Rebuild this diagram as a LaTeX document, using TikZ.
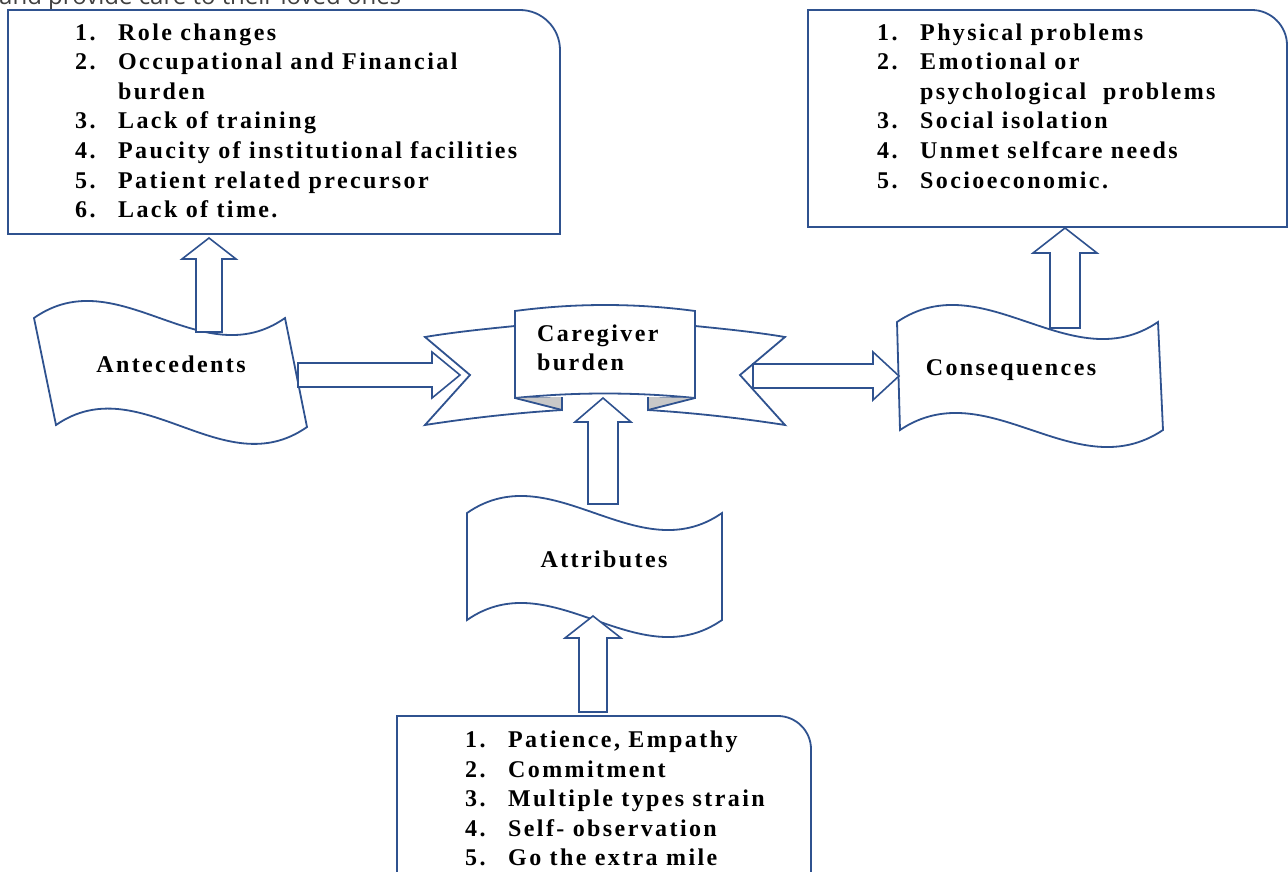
\documentclass[tikz,border=0pt]{standalone}
\usepackage{fontspec}
\setmainfont{Liberation Serif}[LetterSpace=10]
\newfontfamily\pagefont{Open Sans}
\definecolor{shapeblue}{HTML}{2F528F}
\definecolor{foldgray}{RGB}{200,200,200}

\begin{document}
\begin{tikzpicture}[
    x=1pt,y=-1pt,
    shp/.style={draw=shapeblue,line width=1.8pt,fill=white},
    barr/.style={draw=shapeblue,line width=1.6pt,fill=white},
    lbl/.style={font=\fontsize{24}{29.5}\selectfont\bfseries,inner sep=0pt,anchor=base west},
    ttl/.style={lbl,anchor=base},
  ]
  \useasboundingbox (0,0) rectangle (1288,872);
  \clip (0,0) rectangle (1288,872);

  % cut-off line of the page above
  \node[font=\pagefont\fontsize{24}{28}\selectfont,text=black!75,anchor=base west,inner sep=0pt] (pagetxt) at (-1,5) {and provide care to their loved ones};

  % list boxes (rounded top right corner)
  \draw[shp] (8,234) -- (8,10) -- (520,10) .. controls (542,10) and (560,28) .. (560,50) -- (560,234) -- cycle;
  \draw[shp] (808,227) -- (808,10) -- (1252,10) .. controls (1271,10) and (1287,26) .. (1287,45) -- (1287,227) -- cycle;
  \draw[shp] (397,880) -- (397,716) -- (778,716) .. controls (796,716) and (811,731) .. (811,749) -- (811,880);

  \foreach \k/\num/\txt in {0/1./Role changes, 1/2./Occupational and Financial, 2//burden,
      3/3./Lack of training, 4/4./Paucity of institutional facilities,
      5/5./Patient related precursor, 6/6./Lack of time.}{
    \node[lbl] (antnum\k) at (75,40.5+29.5*\k) {\num};
    \node[lbl] (antitm\k) at (118,40.5+29.5*\k) {\txt};
  }
  \foreach \k/\num/\txt in {0/1./Physical problems, 1/2./Emotional or, 2//psychological~~problems,
      3/3./Social isolation, 4/4./Unmet selfcare needs, 5/5./Socioeconomic.}{
    \node[lbl] (connum\k) at (877,40.5+29.5*\k) {\num};
    \node[lbl] (conitm\k) at (920,40.5+29.5*\k) {\txt};
  }
  \foreach \k/\num/\txt in {0/1./{Patience, Empathy}, 1/2./Commitment, 2/3./Multiple types strain,
      3/4./Self- observation, 4/5./Go the extra mile}{
    \node[lbl] (attnum\k) at (465,747.5+29.5*\k) {\num};
    \node[lbl] (attitm\k) at (508,747.5+29.5*\k) {\txt};
  }

  % wave shapes
  \draw[shp] (34,318) .. controls (118,259) and (201,377) .. (285,318) -- (307,427)
    .. controls (223,486) and (140,367) .. (56,425) -- cycle;
  \draw[shp] (897,322) .. controls (984,263) and (1071,381) .. (1158,322) -- (1163,430)
    .. controls (1075,489) and (988,371) .. (900,430) -- cycle;
  \draw[shp] (467,513) .. controls (552,454) and (637,572) .. (722,513) -- (722,620)
    .. controls (637,679) and (552,561) .. (467,620) -- cycle;

  % ribbon
  \draw[shp] (515,326) .. controls (485,329) and (455,332) .. (425,337) -- (470,375) -- (425,425)
    .. controls (470,418) and (515,413) .. (562,410) -- (562,398) -- (515,398) -- cycle;
  \draw[shp] (695,326) .. controls (725,329) and (755,332) .. (785,337) -- (740,375) -- (785,425)
    .. controls (740,418) and (695,413) .. (648,410) -- (648,398) -- (695,398) -- cycle;
  \draw[shp] (515,311) .. controls (575,303) and (635,303) .. (695,311) -- (695,398)
    .. controls (635,392) and (575,392) .. (515,398) -- cycle;
  \fill[foldgray] (515,398) -- (562,410) -- (562,397) -- cycle;
  \fill[foldgray] (695,398) -- (648,410) -- (648,397) -- cycle;
  \draw[shapeblue,line width=1.8pt] (515,398) -- (562,410) -- (562,397);
  \draw[shapeblue,line width=1.8pt] (695,398) -- (648,410) -- (648,397);

  \node[ttl] (ante) at (171,372) {Antecedents};
  \node[lbl] (care) at (537,341) {Caregiver};
  \node[lbl] (careb) at (537,370) {burden};
  \node[ttl] (cons) at (1011,375) {Consequences};
  \node[ttl] (attr) at (604,567) {Attributes};

  % block arrows, horizontal
  \foreach \xa/\xb/\yc/\s/\h/\l in {298/460/375/12/23/28, 753/899/376/12/24/26}{
    \draw[barr] (\xa,\yc-\s) -- (\xb-\l,\yc-\s) -- (\xb-\l,\yc-\h) -- (\xb,\yc)
      -- (\xb-\l,\yc+\h) -- (\xb-\l,\yc+\s) -- (\xa,\yc+\s) -- cycle;
  }
  % block arrows, vertical
  \foreach \xc/\ya/\yb/\s/\h/\l in {209/332/238/13/27/21, 1065/328/228/15/32/25,
      603/504/398/15/28/24, 593/712/616/14/28/22}{
    \draw[barr] (\xc-\s,\ya) -- (\xc-\s,\yb+\l) -- (\xc-\h,\yb+\l) -- (\xc,\yb)
      -- (\xc+\h,\yb+\l) -- (\xc+\s,\yb+\l) -- (\xc+\s,\ya) -- cycle;
  }
\end{tikzpicture}
\end{document}
